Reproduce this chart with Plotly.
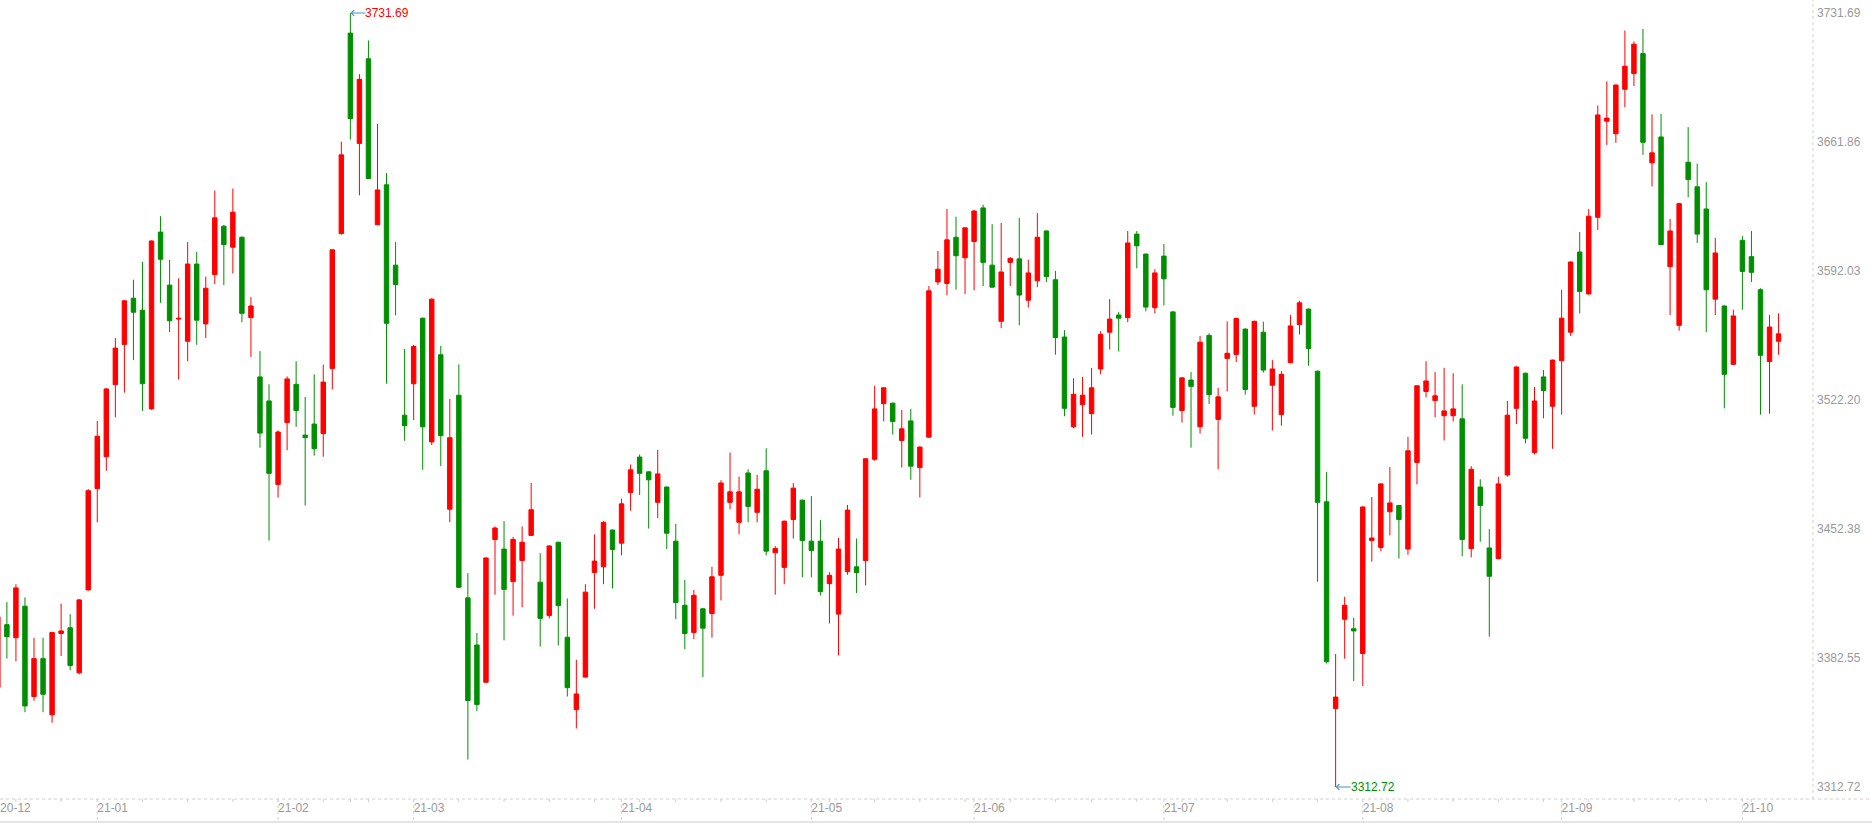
import pandas as pd
import plotly.graph_objects as go

# trading days shown, 2020-12-17 .. 2021-10-14 (exchange holidays removed)
holidays = ['2021-01-01', '2021-02-11', '2021-02-12', '2021-02-15', '2021-02-16',
            '2021-02-17', '2021-04-05', '2021-05-03', '2021-05-04', '2021-05-05',
            '2021-06-14', '2021-09-20', '2021-09-21', '2021-10-01', '2021-10-04',
            '2021-10-05', '2021-10-06', '2021-10-07']
dates = pd.bdate_range('2020-12-17', '2021-10-14', freq='C', holidays=holidays)

open_ = [
    3366.6, 3400.6, 3393.5, 3410.6, 3361.7, 3382.2, 3351.8, 3395.8, 3398.9, 3374.5, 3419.4,
    3474.2, 3491.5, 3530.5, 3552.3, 3577.3, 3570.8, 3517.4, 3613.1, 3584.4, 3566.0,
    3554.0, 3595.8, 3563.4, 3590.1, 3616.3, 3604.9, 3610.3, 3566.8, 3534.7, 3521.7,
    3476.5, 3510.0, 3530.7, 3503.2, 3509.2, 3504.0, 3539.3, 3612.3, 3720.8, 3661.1,
    3706.9, 3617.1, 3638.7, 3595.2, 3514.0,
    3531.0, 3566.5, 3499.5, 3546.7, 3463.1, 3524.8, 3415.1, 3389.6, 3369.4, 3446.7,
    3441.5, 3423.9, 3435.3, 3448.9, 3423.6, 3405.5, 3445.2, 3393.8, 3354.6, 3372.2,
    3428.8, 3431.9, 3451.8,
    3444.7, 3472.2, 3491.3, 3483.3, 3466.8, 3475.1, 3445.8, 3411.1, 3396.4, 3409.2,
    3406.6, 3427.3, 3466.8, 3456.0, 3482.7, 3461.4, 3483.9, 3439.5, 3431.6, 3457.5, 3468.0,
    3445.8, 3445.8, 3422.8, 3406.3, 3429.3, 3431.9, 3435.3, 3490.1, 3520.2, 3520.5,
    3500.3, 3510.9, 3485.6, 3502.1, 3586.1, 3585.3, 3610.3, 3599.2,
    3608.0, 3626.2, 3595.2, 3564.8, 3596.7, 3598.6, 3576.2, 3586.7, 3613.7, 3587.3,
    3556.3, 3507.7, 3519.7, 3514.8, 3539.0, 3558.9, 3568.2, 3566.8, 3612.0, 3601.2, 3572.2,
    3600.1, 3569.9, 3516.5, 3533.0, 3507.7, 3557.2, 3511.7, 3544.7, 3546.9, 3560.6,
    3518.8, 3558.9, 3530.2, 3514.3, 3542.4, 3563.1, 3571.4, 3537.8, 3467.1, 3355.2,
    3403.5, 3398.4,
    3385.0, 3446.1, 3442.4, 3461.7, 3465.1, 3441.5, 3488.4, 3526.8, 3521.9, 3513.7,
    3513.7, 3512.0, 3441.8, 3475.1, 3442.1, 3436.4, 3481.6, 3517.7, 3536.7, 3493.8,
    3534.7, 3518.8,
    3543.5, 3558.9, 3602.3, 3579.6, 3621.1, 3673.1, 3666.3, 3690.4, 3698.9, 3709.7,
    3650.6, 3664.6, 3594.4, 3562.6, 3650.9, 3637.6, 3625.6, 3576.8, 3573.1, 3541.5,
    3608.6, 3599.8, 3581.9, 3543.0, 3554.0,
]
high = [
    3407.1, 3412.8, 3422.5, 3415.4, 3393.5, 3393.5, 3396.6, 3412.0, 3406.3, 3414.5, 3474.0,
    3510.9, 3528.6, 3555.7, 3576.3, 3587.3, 3596.9, 3608.5, 3621.7, 3598.1, 3588.1,
    3607.7, 3602.3, 3589.0, 3635.6, 3616.9, 3636.7, 3610.8, 3577.9, 3548.7, 3530.7,
    3505.7, 3535.0, 3543.2, 3523.9, 3536.1, 3541.3, 3603.8, 3662.0, 3731.69, 3698.6,
    3716.8, 3671.7, 3645.0, 3607.7, 3549.8,
    3552.1, 3566.8, 3577.1, 3551.5, 3522.8, 3541.5, 3428.5, 3396.1, 3437.0, 3453.8,
    3456.6, 3448.1, 3453.8, 3477.3, 3439.3, 3443.5, 3445.5, 3414.8, 3381.6, 3422.5,
    3449.5, 3456.6, 3452.1,
    3468.8, 3487.3, 3492.7, 3483.6, 3495.2, 3475.4, 3455.2, 3424.8, 3419.4, 3409.5,
    3431.9, 3478.8, 3493.8, 3480.7, 3484.7, 3481.6, 3496.1, 3443.2, 3456.9, 3477.3, 3468.3,
    3470.2, 3457.2, 3429.0, 3447.5, 3465.4, 3447.2, 3490.6, 3529.9, 3529.0, 3520.8,
    3516.8, 3517.4, 3497.2, 3583.9, 3602.9, 3625.6, 3621.4, 3615.7,
    3625.1, 3627.9, 3617.4, 3618.0, 3599.5, 3620.8, 3598.1, 3623.4, 3614.0, 3592.1,
    3560.0, 3533.9, 3534.7, 3539.6, 3559.4, 3576.8, 3569.9, 3613.7, 3613.7, 3601.5, 3593.0,
    3606.6, 3570.2, 3534.5, 3537.3, 3556.9, 3558.3, 3528.8, 3564.8, 3566.8, 3560.9,
    3565.1, 3564.6, 3543.8, 3537.8, 3568.2, 3575.9, 3571.7, 3538.1, 3483.3, 3384.7,
    3415.7, 3404.3,
    3464.6, 3469.7, 3477.1, 3485.9, 3465.4, 3502.3, 3530.2, 3543.2, 3537.3, 3539.6,
    3536.7, 3530.7, 3486.4, 3479.3, 3452.3, 3480.7, 3521.7, 3540.4, 3537.0, 3529.3,
    3538.4, 3544.1,
    3581.9, 3597.2, 3613.1, 3625.6, 3681.6, 3694.7, 3693.0, 3722.2, 3716.3, 3723.1,
    3676.8, 3677.1, 3620.2, 3629.0, 3669.9, 3650.1, 3640.1, 3610.0, 3573.4, 3571.1,
    3610.9, 3613.7, 3582.7, 3568.2, 3569.1,
]
low = [
    3363.5, 3382.2, 3380.7, 3353.2, 3359.4, 3353.2, 3347.5, 3383.6, 3375.9, 3373.7, 3419.0,
    3456.0, 3483.9, 3512.8, 3526.2, 3543.8, 3516.3, 3516.9, 3574.8, 3558.9, 3533.3,
    3543.2, 3552.1, 3555.7, 3585.0, 3584.4, 3590.7, 3564.3, 3545.5, 3496.4, 3446.1,
    3469.4, 3495.0, 3507.7, 3465.1, 3492.1, 3491.5, 3527.9, 3611.7, 3663.1, 3633.0,
    3641.8, 3616.8, 3531.0, 3568.0, 3500.1,
    3511.4, 3484.4, 3497.8, 3486.4, 3456.0, 3420.5, 3327.6, 3353.8, 3369.0, 3416.8,
    3392.1, 3405.5, 3410.0, 3448.6, 3388.7, 3404.0, 3389.3, 3361.7, 3344.4, 3371.9,
    3409.2, 3422.5, 3420.2,
    3438.1, 3462.3, 3470.8, 3452.6, 3458.3, 3441.5, 3403.5, 3387.3, 3392.7, 3372.2,
    3393.5, 3413.7, 3463.1, 3449.5, 3456.0, 3456.0, 3438.1, 3416.8, 3422.5, 3447.2, 3426.2,
    3426.2, 3416.3, 3401.2, 3383.9, 3427.6, 3417.7, 3421.9, 3489.3, 3510.6, 3503.5,
    3485.6, 3479.0, 3469.4, 3501.8, 3584.4, 3578.8, 3581.9, 3579.6,
    3581.6, 3583.9, 3583.0, 3561.1, 3583.9, 3562.6, 3572.2, 3583.3, 3586.1, 3546.7,
    3513.4, 3506.9, 3502.3, 3503.5, 3536.1, 3549.5, 3548.4, 3564.3, 3593.5, 3570.2, 3569.1,
    3573.4, 3513.7, 3510.0, 3496.4, 3504.0, 3520.0, 3484.7, 3526.8, 3542.7, 3525.1,
    3514.3, 3537.0, 3505.7, 3508.3, 3542.1, 3557.7, 3540.7, 3423.9, 3379.6, 3312.72,
    3382.2, 3370.0,
    3367.4, 3434.7, 3440.4, 3448.9, 3436.4, 3438.4, 3476.5, 3523.7, 3512.8, 3500.3,
    3510.6, 3437.6, 3437.0, 3445.5, 3394.1, 3435.9, 3480.7, 3509.2, 3498.7, 3492.7,
    3512.3, 3495.8,
    3514.3, 3556.9, 3569.1, 3579.3, 3614.3, 3660.3, 3661.4, 3680.7, 3692.1, 3654.9,
    3637.8, 3606.0, 3568.2, 3559.7, 3631.9, 3607.2, 3558.9, 3568.2, 3517.7, 3541.2,
    3571.1, 3586.1, 3514.3, 3514.8, 3546.7,
]
close = [
    3404.9, 3394.1, 3420.5, 3356.6, 3382.2, 3362.9, 3396.4, 3397.2, 3378.5, 3414.0, 3473.1,
    3502.6, 3528.2, 3550.3, 3575.9, 3569.7, 3531.0, 3608.3, 3598.4, 3565.1, 3566.4,
    3595.8, 3565.4, 3582.7, 3620.8, 3606.3, 3623.9, 3569.1, 3573.1, 3504.3, 3482.5,
    3504.9, 3533.6, 3516.5, 3501.8, 3495.8, 3531.9, 3603.5, 3654.9, 3674.5, 3695.8,
    3642.1, 3635.9, 3563.7, 3584.7, 3508.3,
    3551.2, 3507.7, 3576.8, 3502.9, 3501.8, 3420.8, 3359.5, 3357.4, 3436.7, 3452.9,
    3419.7, 3446.7, 3445.2, 3462.8, 3404.0, 3443.2, 3410.9, 3366.5, 3363.1, 3418.2,
    3435.0, 3456.0, 3441.3,
    3466.0, 3484.4, 3482.5, 3479.0, 3482.2, 3450.1, 3412.6, 3395.8, 3416.5, 3398.7,
    3426.5, 3477.3, 3472.5, 3472.5, 3464.6, 3473.9, 3440.4, 3441.8, 3456.6, 3474.5, 3446.1,
    3440.7, 3418.5, 3427.3, 3441.5, 3462.6, 3428.8, 3490.4, 3517.4, 3528.8, 3510.6,
    3506.6, 3486.4, 3496.7, 3581.3, 3593.0, 3608.9, 3600.3, 3615.4,
    3624.5, 3596.7, 3583.3, 3591.5, 3598.9, 3579.0, 3591.0, 3610.3, 3589.0, 3556.0,
    3517.7, 3525.3, 3524.8, 3528.8, 3557.7, 3566.0, 3566.5, 3607.2, 3605.7, 3572.5, 3591.0,
    3587.8, 3518.2, 3534.2, 3529.6, 3553.5, 3525.1, 3523.9, 3547.5, 3566.3, 3527.9,
    3564.8, 3538.4, 3539.0, 3536.1, 3562.3, 3574.8, 3550.1, 3466.8, 3380.5, 3361.4,
    3411.1, 3397.2,
    3464.3, 3447.5, 3476.8, 3466.5, 3457.5, 3494.7, 3529.9, 3532.5, 3524.5, 3516.3,
    3517.4, 3446.7, 3484.7, 3465.1, 3426.8, 3476.8, 3514.0, 3540.1, 3501.5, 3521.7,
    3527.3, 3543.8,
    3566.5, 3596.9, 3581.0, 3621.7, 3676.5, 3674.8, 3692.7, 3702.9, 3714.8, 3661.7,
    3656.0, 3606.3, 3613.7, 3628.5, 3641.5, 3612.0, 3581.9, 3601.8, 3536.1, 3567.7,
    3591.8, 3591.3, 3546.4, 3561.7, 3558.0,
]

month_labels = ['20-12', '21-01', '21-02', '21-03', '21-04', '21-05',
                '21-06', '21-07', '21-08', '21-09', '21-10']
y_tick_labels = ['3731.69', '3661.86', '3592.03', '3522.20',
                 '3452.38', '3382.55', '3312.72']

RED = '#ff0000'
GREEN = '#008f00'
GRAY = '#999999'
FONT = 'Arial, Liberation Sans, sans-serif'

W, H = 1872, 823
ML, MR, MT, MB = 0, 59, 0, 24
plot_w = W - ML - MR
plot_h = H - MT - MB

x = list(range(len(dates)))
x_range = [0.238, 200.81]

hi, lo = max(high), min(low)
per_px = (hi - lo) / 774
y_range = [lo - 12 * per_px, hi + 13 * per_px]

# first trading day of every month / week
d = pd.Series(range(len(dates)), index=dates)
month_idx = d.groupby([dates.year, dates.month]).min().tolist()[1:]
week_idx = d.groupby([dates.isocalendar().year.values,
                      dates.isocalendar().week.values]).min().tolist()[1:]

fig = go.Figure()
fig.add_trace(go.Candlestick(
    x=x, open=open_, high=high, low=low, close=close,
    increasing=dict(line=dict(color=RED, width=1), fillcolor=RED),
    decreasing=dict(line=dict(color=GREEN, width=1), fillcolor=GREEN),
    whiskerwidth=0, hoverinfo='skip',
))

shapes = []
dot = dict(color='#d0d0d0', width=1, dash='dot')
# axis frame
shapes.append(dict(type='line', xref='paper', yref='paper', x0=0, x1=W / plot_w,
                   y0=0, y1=0, line=dot))
shapes.append(dict(type='line', xref='paper', yref='paper', x0=1, x1=1,
                   y0=0, y1=1, line=dot))
shapes.append(dict(type='rect', xref='paper', yref='paper', x0=0, x1=W / plot_w,
                   y0=-24 / plot_h, y1=-22 / plot_h,
                   line=dict(width=0), fillcolor='#e4e4e4'))
for i in month_idx:
    shapes.append(dict(type='line', xref='x', yref='paper', x0=i, x1=i,
                       y0=0, y1=-22 / plot_h, line=dot))
for i in week_idx:
    shapes.append(dict(type='line', xref='x', yref='paper', x0=i, x1=i,
                       y0=0, y1=-3 / plot_h, line=dot))

i_max = high.index(hi)
i_min = low.index(lo)
annotations = [
    dict(x=i_max, y=hi, text=f'{hi:.2f}', font=dict(color=RED, size=12, family=FONT)),
    dict(x=i_min, y=lo, text=f'{lo:.2f}', font=dict(color=GREEN, size=12, family=FONT)),
]
for a in annotations:
    a.update(xref='x', yref='y', showarrow=True, ax=15, ay=0, xanchor='left',
             yanchor='middle', arrowhead=4, arrowsize=1.1, arrowwidth=1,
             arrowcolor='#4f8fc0', borderpad=0, borderwidth=0, standoff=0)

fig.update_layout(
    width=W, height=H,
    margin=dict(l=ML, r=MR, t=MT, b=MB),
    paper_bgcolor='white', plot_bgcolor='white',
    showlegend=False,
    font=dict(family=FONT, size=12, color=GRAY),
    shapes=shapes,
    annotations=annotations,
    xaxis=dict(
        range=x_range, rangeslider=dict(visible=False),
        showgrid=False, zeroline=False, showline=False, ticks='',
        tickmode='array',
        tickvals=[x_range[0] + 0.01] + month_idx,
        ticktext=month_labels,
        ticklabelposition='outside right',
        tickfont=dict(size=12, color=GRAY, family=FONT),
    ),
    yaxis=dict(
        side='right', range=y_range,
        showgrid=False, zeroline=False, showline=False, ticks='',
        tickmode='array',
        tickvals=[float(v) for v in y_tick_labels],
        ticktext=y_tick_labels,
        ticklabelstandoff=3,
        tickfont=dict(size=12, color=GRAY, family=FONT),
    ),
)

# the page's default body margin would shift the figure by 8px
fig.write_html('out.html', config={'displayModeBar': False},
               post_script="document.body.style.margin='0';document.body.style.overflow='hidden';")
